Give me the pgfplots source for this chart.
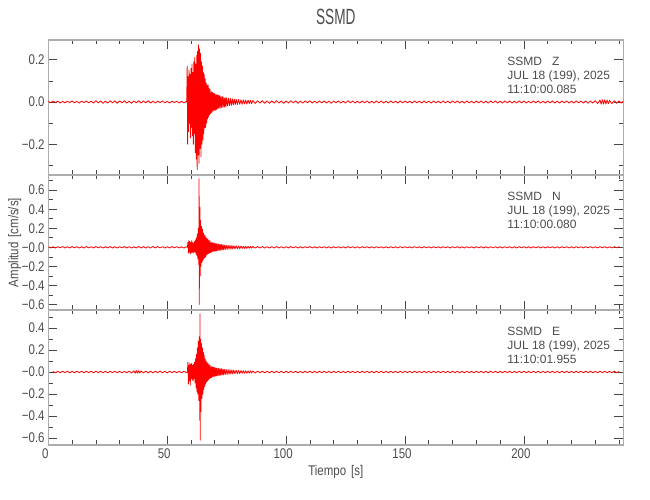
\documentclass[border=0pt]{standalone}
\usepackage{fontspec}
\setmainfont{Liberation Sans}[FakeStretch=0.82]
\newfontfamily\titlefont{Liberation Sans}[FakeStretch=0.62]
\newfontfamily\plainfont{Liberation Sans}
\usepackage{pgfplots}
\pgfplotsset{compat=1.18}
\definecolor{framegray}{gray}{0.68}
\definecolor{tickgray}{gray}{0.28}
\definecolor{txtgray}{gray}{0.3}
\newcommand\lblfont{\plainfont\fontsize{12}{14}\selectfont}
\pgfplotsset{
  seis/.style={
    scale only axis, width=575pt, height=135pt,
    xmin=0, xmax=241.8,
    xtick={0,50,100,150,200},
    minor xtick={10,20,30,40,60,70,80,90,110,120,130,140,160,170,180,190,210,220,230,240},
    xtick pos=both, ytick pos=both, tick align=inside,
    major tick length=9pt, minor tick length=4.5pt,
    axis line style={draw=framegray, line width=1.3pt},
    tick style={draw=tickgray, line width=0.6pt},
    tick label style={font=\fontsize{14}{14}\selectfont, text=txtgray},
    yticklabel style={anchor=east, inner sep=0pt, xshift=-3.5pt},
    xticklabel style={anchor=base, inner sep=0pt, yshift=-13.3pt, xshift=-3pt},
    label style={font=\fontsize{14}{14}\selectfont, text=txtgray},
  },
  seistrace/.style={red, line width=0.8pt, line join=round, mark=none},
}
\tikzset{
  stationlabel/.style={anchor=north west, inner sep=0pt, align=left, text=txtgray, font=\lblfont},
}
\begin{document}
\begin{tikzpicture}
\useasboundingbox (0,0) rectangle (650pt,500pt);

% ---------------- Z ----------------
\begin{axis}[seis, at={(48.3pt,325pt)}, anchor=south west,
  ymin=-0.345, ymax=0.293,
  ytick={-0.2,0,0.2}, yticklabels={−0.2,0.0,0.2},
  minor ytick={-0.3,-0.1,0.1},
  xticklabels={},
  title={SSMD}, title style={font=\titlefont\fontsize{22}{22}\selectfont, text=txtgray, at={(0.5,1)}, anchor=base, yshift=9.3pt},
]
\addplot[seistrace] coordinates {
(0,0.003)(1,-0.004)(2,0.005)(3,-0.003)(4,0.004)(5,-0.005)(6,0.003)(7,-0.004)(8,0.004)(9,-0.003)
(10,0.005)(11,-0.004)(12,0.003)(13,-0.005)(14,0.004)(15,-0.003)(16,0.005)(17,-0.004)(18,0.004)(19,-0.005)
(20,0.006)(21,-0.004)(22,0.005)(23,-0.006)(24,0.004)(25,-0.005)(26,0.006)(27,-0.004)(28,0.005)(29,-0.006)
(30,0.005)(31,-0.004)(32,0.006)(33,-0.005)(34,0.004)(35,-0.006)(36,0.005)(37,-0.004)(38,0.006)(39,-0.005)
(40,0.005)(41,-0.004)(42,0.006)(43,-0.005)(44,0.004)(45,-0.005)(46,0.004)(47,-0.003)(48,0.005)(49,-0.004)
(50,0.003)(51,-0.005)(52,0.004)(53,-0.003)(54,0.004)(55,-0.005)(56,0.003)(57,-0.004)(58,0.003)
(58.2,0.0)(58.4,0.17)(58.6,-0.20)(58.8,0.12)(59.0,-0.14)(59.2,0.15)(59.4,-0.10)(59.6,0.13)(59.8,-0.17)
(60.0,0.16)(60.2,-0.12)(60.4,0.18)(60.6,-0.16)(60.8,0.14)(61.0,-0.20)(61.2,0.19)(61.4,-0.15)(61.6,0.21)(61.8,-0.24)
(62.0,0.18)(62.2,-0.27)(62.4,0.22)(62.6,-0.32)(62.8,0.24)(63.0,-0.25)(63.2,0.27)(63.4,-0.29)(63.6,0.25)(63.8,-0.22)
(64.0,0.23)(64.2,-0.26)(64.4,0.19)(64.6,-0.20)(64.8,0.17)(65.0,-0.18)(65.2,0.14)(65.4,-0.15)(65.6,0.13)(65.8,-0.12)
(66.0,0.11)(66.2,-0.12)(66.4,0.09)(66.6,-0.10)(66.8,0.08)(67.0,-0.08)(67.2,0.08)(67.4,-0.07)(67.6,0.065)(67.8,-0.06)
(68.0,0.06)(68.25,-0.055)(68.5,0.05)(68.75,-0.05)(69.0,0.045)(69.25,-0.045)(69.5,0.042)(69.75,-0.04)
(70.0,0.04)(70.25,-0.038)(70.5,0.036)(70.75,-0.035)(71.0,0.034)(71.25,-0.032)(71.5,0.032)(71.75,-0.03)
(72.0,0.03)(72.3,-0.028)(72.6,0.028)(72.9,-0.026)(73.2,0.025)(73.5,-0.025)(73.8,0.022)(74.1,-0.024)(74.4,0.02)(74.7,-0.022)
(75.0,0.02)(75.4,-0.018)(75.8,0.018)(76.2,-0.017)(76.6,0.016)(77.0,-0.016)(77.4,0.015)(77.8,-0.014)(78.2,0.014)(78.6,-0.013)
(79.0,0.013)(79.5,-0.012)(80.0,0.012)(80.5,-0.011)(81,0.01)(81.5,-0.011)(82,0.01)(82.5,-0.009)(83,0.009)(83.5,-0.01)
(84,0.009)(84.5,-0.008)(85,0.008)(85.5,-0.008)(86,0.007)(87,-0.007)
(88,0.006)(89,-0.005)(90,0.006)(91,-0.006)(92,0.005)(93,-0.006)(94,0.005)(95,-0.005)(96,0.006)(97,-0.005)
(98,0.005)(99,-0.006)(100,0.005)(101,-0.005)(102,0.006)(103,-0.004)(104,0.005)(105,-0.006)(106,0.004)(107,-0.005)
(108,0.005)(109,-0.004)(110,0.006)(111,-0.005)(112,0.004)(113,-0.005)(114,0.005)(115,-0.004)(116,0.005)(117,-0.005)
(118,0.004)(119,-0.006)(120,0.005)(121,-0.004)(122,0.005)(123,-0.005)(124,0.004)(125,-0.005)(126,0.006)(127,-0.004)
(128,0.005)(129,-0.005)(130,0.004)(131,-0.005)(132,0.005)(133,-0.004)(134,0.005)(135,-0.005)(136,0.004)(137,-0.005)
(138,0.005)(139,-0.004)(140,0.005)(141,-0.005)(142,0.004)(143,-0.005)(144,0.005)(145,-0.004)(146,0.004)(147,-0.005)
(148,0.005)(149,-0.004)(150,0.005)(151,-0.004)(152,0.004)(153,-0.005)(154,0.005)(155,-0.004)(156,0.004)(157,-0.005)
(158,0.005)(159,-0.004)(160,0.004)(161,-0.005)(162,0.005)(163,-0.004)(164,0.004)(165,-0.005)(166,0.005)(167,-0.004)
(168,0.004)(169,-0.005)(170,0.005)(171,-0.004)(172,0.005)(173,-0.005)(174,0.004)(175,-0.005)(176,0.005)(177,-0.004)
(178,0.004)(179,-0.005)(180,0.005)(181,-0.004)(182,0.005)(183,-0.005)(184,0.004)(185,-0.005)(186,0.005)(187,-0.004)
(188,0.005)(189,-0.005)(190,0.004)(191,-0.005)(192,0.005)(193,-0.004)(194,0.005)(195,-0.005)(196,0.004)(197,-0.005)
(198,0.005)(199,-0.004)(200,0.005)(201,-0.005)(202,0.004)(203,-0.005)(204,0.005)(205,-0.004)(206,0.005)(207,-0.005)
(208,0.004)(209,-0.005)(210,0.005)(211,-0.004)(212,0.005)(213,-0.005)(214,0.004)(215,-0.005)(216,0.005)(217,-0.004)
(218,0.005)(219,-0.005)(220,0.004)(221,-0.005)(222,0.005)(223,-0.004)(224,0.005)(225,-0.005)(226,0.005)(227,-0.006)
(228,0.005)(229,-0.005)(230,0.006)(231,-0.007)(232,0.009)(232.5,-0.010)(233,0.011)(233.5,-0.010)(234,0.010)(234.5,-0.009)
(235,0.009)(235.5,-0.008)(236,0.007)(237,-0.007)(238,0.006)(239,-0.006)(240,0.005)(241,-0.005)(241.8,0.004)
};
\node[stationlabel] at (rel axis cs:0.798,0.876) {SSMD\hspace{10pt}Z\\JUL 18 (199), 2025\\11:10:00.085};
\end{axis}

% ---------------- N ----------------
\begin{axis}[seis, at={(48.3pt,190pt)}, anchor=south west,
  ymin=-0.658, ymax=0.759,
  ytick={-0.6,-0.4,-0.2,0,0.2,0.4,0.6}, yticklabels={−0.6,−0.4,−0.2,−0.0,0.2,0.4,0.6},
  minor ytick={-0.5,-0.3,-0.1,0.1,0.3,0.5,0.7},
  xticklabels={},
  ylabel={Amplitud\hspace{5pt}[cm/s/s]},
  ylabel style={at={(axis description cs:-0.0522,0.5)}, anchor=base},
]
\addplot[seistrace] coordinates {
(0,0.006)(1,-0.007)(2,0.006)(3,-0.008)(4,0.007)(5,-0.006)(6,0.008)(7,-0.007)(8,0.006)(9,-0.007)
(10,0.008)(11,-0.006)(12,0.007)(13,-0.008)(14,0.006)(15,-0.007)(16,0.008)(17,-0.006)(18,0.007)(19,-0.007)
(20,0.008)(21,-0.006)(22,0.007)(23,-0.008)(24,0.006)(25,-0.007)(26,0.008)(27,-0.007)(28,0.006)(29,-0.008)
(30,0.007)(31,-0.006)(32,0.008)(33,-0.007)(34,0.007)(35,-0.008)(36,0.006)(37,-0.007)(38,0.009)(39,-0.007)
(40,0.008)(41,-0.009)(42,0.007)(43,-0.008)(44,0.009)(45,-0.007)(46,0.008)(47,-0.006)(48,0.007)(49,-0.008)
(50,0.006)(51,-0.007)(52,0.008)(53,-0.006)(54,0.007)(55,-0.007)(56,0.006)(57,-0.008)(58,0.006)
(58.5,0.0)(58.7,0.05)(58.9,-0.06)(59.1,0.07)(59.3,-0.05)(59.5,0.06)(59.7,-0.07)(59.9,0.05)
(60.1,-0.06)(60.3,0.07)(60.5,-0.05)(60.7,0.05)(60.9,-0.06)(61.1,0.04)(61.3,-0.05)(61.5,0.06)(61.7,-0.05)(61.9,0.08)
(62.1,-0.07)(62.3,0.10)(62.5,-0.09)(62.7,0.14)(62.9,-0.12)(63.1,0.20)(63.3,-0.18)(63.4,0.72)(63.5,-0.60)(63.6,0.30)
(63.7,-0.20)(63.8,0.42)(63.9,-0.30)(64.0,0.28)(64.2,-0.20)(64.4,0.22)(64.6,-0.16)(64.8,0.19)(65.0,-0.14)(65.2,0.15)
(65.4,-0.12)(65.6,0.13)(65.8,-0.11)(66.0,0.12)(66.2,-0.10)(66.4,0.10)(66.6,-0.08)(66.8,0.09)(67.0,-0.07)(67.2,0.08)
(67.4,-0.065)(67.6,0.07)(67.8,-0.06)(68.0,0.065)(68.25,-0.055)(68.5,0.05)(68.75,-0.05)(69.0,0.048)(69.25,-0.045)(69.5,0.045)
(69.75,-0.042)(70.0,0.042)(70.25,-0.04)(70.5,0.04)(70.75,-0.038)(71.0,0.036)(71.3,-0.035)(71.6,0.035)(71.9,-0.033)(72.2,0.032)
(72.5,-0.03)(72.8,0.03)(73.1,-0.028)(73.4,0.027)(73.7,-0.026)(74.0,0.025)(74.4,-0.024)(74.8,0.023)(75.2,-0.022)(75.6,0.021)
(76.0,-0.02)(76.4,0.02)(76.8,-0.019)(77.2,0.018)(77.6,-0.018)(78.0,0.017)(78.5,-0.016)(79.0,0.016)(79.5,-0.015)(80.0,0.014)
(80.5,-0.014)(81,0.013)(81.5,-0.012)(82,0.012)(82.5,-0.012)(83,0.011)(83.5,-0.011)(84,0.01)(84.5,-0.01)(85,0.01)
(85.5,-0.009)(86,0.009)(87,-0.009)
(88,0.008)(89,-0.007)(90,0.008)(91,-0.008)(92,0.007)(93,-0.008)(94,0.007)(95,-0.007)(96,0.008)(97,-0.007)
(98,0.007)(99,-0.008)(100,0.007)(101,-0.007)(102,0.008)(103,-0.006)(104,0.007)(105,-0.008)(106,0.006)(107,-0.007)
(108,0.007)(109,-0.006)(110,0.008)(111,-0.007)(112,0.006)(113,-0.007)(114,0.007)(115,-0.006)(116,0.007)(117,-0.007)
(118,0.006)(119,-0.008)(120,0.007)(121,-0.006)(122,0.007)(123,-0.007)(124,0.006)(125,-0.007)(126,0.008)(127,-0.006)
(128,0.007)(129,-0.007)(130,0.006)(131,-0.007)(132,0.007)(133,-0.006)(134,0.007)(135,-0.007)(136,0.006)(137,-0.007)
(138,0.007)(139,-0.006)(140,0.007)(141,-0.007)(142,0.006)(143,-0.007)(144,0.007)(145,-0.006)(146,0.006)(147,-0.007)
(148,0.007)(149,-0.006)(150,0.007)(151,-0.006)(152,0.006)(153,-0.007)(154,0.007)(155,-0.006)(156,0.006)(157,-0.007)
(158,0.007)(159,-0.006)(160,0.006)(161,-0.007)(162,0.007)(163,-0.006)(164,0.006)(165,-0.007)(166,0.007)(167,-0.006)
(168,0.006)(169,-0.007)(170,0.007)(171,-0.006)(172,0.007)(173,-0.007)(174,0.006)(175,-0.007)(176,0.007)(177,-0.006)
(178,0.006)(179,-0.007)(180,0.007)(181,-0.006)(182,0.007)(183,-0.007)(184,0.006)(185,-0.007)(186,0.007)(187,-0.006)
(188,0.007)(189,-0.007)(190,0.006)(191,-0.007)(192,0.007)(193,-0.006)(194,0.007)(195,-0.007)(196,0.006)(197,-0.007)
(198,0.007)(199,-0.006)(200,0.007)(201,-0.007)(202,0.006)(203,-0.007)(204,0.007)(205,-0.006)(206,0.007)(207,-0.007)
(208,0.006)(209,-0.007)(210,0.007)(211,-0.006)(212,0.007)(213,-0.007)(214,0.006)(215,-0.007)(216,0.007)(217,-0.006)
(218,0.007)(219,-0.007)(220,0.006)(221,-0.007)(222,0.007)(223,-0.006)(224,0.007)(225,-0.007)(226,0.007)(227,-0.006)
(228,0.007)(229,-0.007)(230,0.006)(231,-0.007)(232,0.007)(233,-0.006)(234,0.007)(235,-0.007)(236,0.006)(237,-0.007)
(238,0.007)(239,-0.006)(240,0.006)(240.3,-0.004)
};
\node[stationlabel] at (rel axis cs:0.798,0.876) {SSMD\hspace{10pt}N\\JUL 18 (199), 2025\\11:10:00.080};
\end{axis}

% ---------------- E ----------------
\begin{axis}[seis, at={(48.3pt,55pt)}, anchor=south west,
  ymin=-0.664, ymax=0.564,
  ytick={-0.6,-0.4,-0.2,0,0.2,0.4}, yticklabels={−0.6,−0.4,−0.2,−0.0,0.2,0.4},
  minor ytick={-0.5,-0.3,-0.1,0.1,0.3,0.5},
  xticklabels={0,50,100,150,200},
  xlabel={Tiempo\hspace{5pt}[s]},
  xlabel style={at={(axis description cs:0.5,0)}, anchor=base, yshift=-30.7pt},
]
\addplot[seistrace] coordinates {
(1.9,0.005)(3,-0.007)(4,0.006)(5,-0.007)(6,0.008)(7,-0.006)(8,0.007)(9,-0.008)
(10,0.006)(11,-0.007)(12,0.008)(13,-0.006)(14,0.007)(15,-0.007)(16,0.008)(17,-0.006)(18,0.007)(19,-0.008)
(20,0.007)(21,-0.006)(22,0.008)(23,-0.007)(24,0.006)(25,-0.008)(26,0.007)(27,-0.006)(28,0.008)(29,-0.007)
(30,0.007)(31,-0.008)(32,0.006)(33,-0.007)(34,0.008)(35,-0.009)(36,0.011)(36.5,-0.012)(37,0.013)(37.5,-0.011)
(38,0.012)(38.5,-0.010)(39,0.010)(40,-0.009)(41,0.008)(42,-0.009)(43,0.008)(44,-0.009)(45,0.008)(46,-0.007)
(47,0.009)(48,-0.008)(49,0.007)(50,-0.009)(51,0.008)(52,-0.007)(53,0.008)(54,-0.007)(55,0.006)(56,-0.007)(57,0.006)(58,-0.005)
(58.5,0.0)(58.7,0.09)(58.9,-0.11)(59.1,0.06)(59.3,-0.08)(59.5,0.08)(59.7,-0.12)(59.9,0.07)
(60.1,-0.06)(60.3,0.08)(60.5,-0.07)(60.7,0.06)(60.9,-0.08)(61.1,0.07)(61.3,-0.06)(61.5,0.09)(61.7,-0.10)(61.9,0.12)
(62.1,-0.14)(62.3,0.16)(62.5,-0.18)(62.7,0.22)(62.9,-0.20)(63.1,0.28)(63.3,-0.26)(63.5,0.32)(63.7,-0.44)(63.8,0.53)
(63.9,-0.62)(64.0,0.30)(64.2,-0.36)(64.4,0.26)(64.6,-0.24)(64.8,0.22)(65.0,-0.20)(65.2,0.18)(65.4,-0.16)(65.6,0.15)
(65.8,-0.13)(66.0,0.12)(66.2,-0.11)(66.4,0.10)(66.6,-0.09)(66.8,0.085)(67.0,-0.08)(67.2,0.075)(67.4,-0.07)(67.6,0.065)
(67.8,-0.06)(68.0,0.06)(68.25,-0.055)(68.5,0.05)(68.75,-0.05)(69.0,0.046)(69.25,-0.044)(69.5,0.043)(69.75,-0.041)(70.0,0.04)
(70.25,-0.038)(70.5,0.037)(70.75,-0.036)(71.0,0.035)(71.3,-0.034)(71.6,0.033)(71.9,-0.032)(72.2,0.031)(72.5,-0.03)(72.8,0.029)
(73.1,-0.028)(73.4,0.027)(73.7,-0.026)(74.0,0.025)(74.4,-0.024)(74.8,0.023)(75.2,-0.022)(75.6,0.021)(76.0,-0.02)(76.4,0.02)
(76.8,-0.019)(77.2,0.018)(77.6,-0.018)(78.0,0.017)(78.5,-0.016)(79.0,0.016)(79.5,-0.015)(80.0,0.014)(80.5,-0.014)(81,0.013)
(81.5,-0.012)(82,0.012)(82.5,-0.012)(83,0.011)(83.5,-0.011)(84,0.01)(84.5,-0.01)(85,0.01)(85.5,-0.009)(86,0.009)(87,-0.009)
(88,0.008)(89,-0.007)(90,0.008)(91,-0.008)(92,0.007)(93,-0.008)(94,0.007)(95,-0.007)(96,0.008)(97,-0.007)
(98,0.007)(99,-0.008)(100,0.007)(101,-0.007)(102,0.008)(103,-0.006)(104,0.007)(105,-0.008)(106,0.006)(107,-0.007)
(108,0.007)(109,-0.006)(110,0.008)(111,-0.007)(112,0.006)(113,-0.007)(114,0.007)(115,-0.006)(116,0.007)(117,-0.007)
(118,0.006)(119,-0.008)(120,0.007)(121,-0.006)(122,0.007)(123,-0.007)(124,0.006)(125,-0.007)(126,0.008)(127,-0.006)
(128,0.007)(129,-0.007)(130,0.006)(131,-0.007)(132,0.007)(133,-0.006)(134,0.007)(135,-0.007)(136,0.006)(137,-0.007)
(138,0.007)(139,-0.006)(140,0.007)(141,-0.007)(142,0.006)(143,-0.007)(144,0.007)(145,-0.006)(146,0.006)(147,-0.007)
(148,0.007)(149,-0.006)(150,0.007)(151,-0.006)(152,0.006)(153,-0.007)(154,0.007)(155,-0.006)(156,0.006)(157,-0.007)
(158,0.007)(159,-0.006)(160,0.006)(161,-0.007)(162,0.007)(163,-0.006)(164,0.006)(165,-0.007)(166,0.007)(167,-0.006)
(168,0.006)(169,-0.007)(170,0.007)(171,-0.006)(172,0.007)(173,-0.007)(174,0.006)(175,-0.007)(176,0.007)(177,-0.006)
(178,0.006)(179,-0.007)(180,0.007)(181,-0.006)(182,0.007)(183,-0.007)(184,0.006)(185,-0.007)(186,0.007)(187,-0.006)
(188,0.007)(189,-0.007)(190,0.006)(191,-0.007)(192,0.007)(193,-0.006)(194,0.007)(195,-0.007)(196,0.006)(197,-0.007)
(198,0.007)(199,-0.006)(200,0.007)(201,-0.007)(202,0.006)(203,-0.007)(204,0.007)(205,-0.006)(206,0.007)(207,-0.007)
(208,0.006)(209,-0.007)(210,0.007)(211,-0.006)(212,0.007)(213,-0.007)(214,0.006)(215,-0.007)(216,0.007)(217,-0.006)
(218,0.007)(219,-0.007)(220,0.006)(221,-0.007)(222,0.007)(223,-0.006)(224,0.007)(225,-0.007)(226,0.007)(227,-0.006)
(228,0.007)(229,-0.007)(230,0.006)(231,-0.007)(232,0.007)(233,-0.006)(234,0.007)(235,-0.007)(236,0.006)(237,-0.007)
(238,0.007)(239,-0.006)(240,0.005)
};
\node[stationlabel] at (rel axis cs:0.798,0.876) {SSMD\hspace{10pt}E\\JUL 18 (199), 2025\\11:10:01.955};
\end{axis}
\end{tikzpicture}
\end{document}
